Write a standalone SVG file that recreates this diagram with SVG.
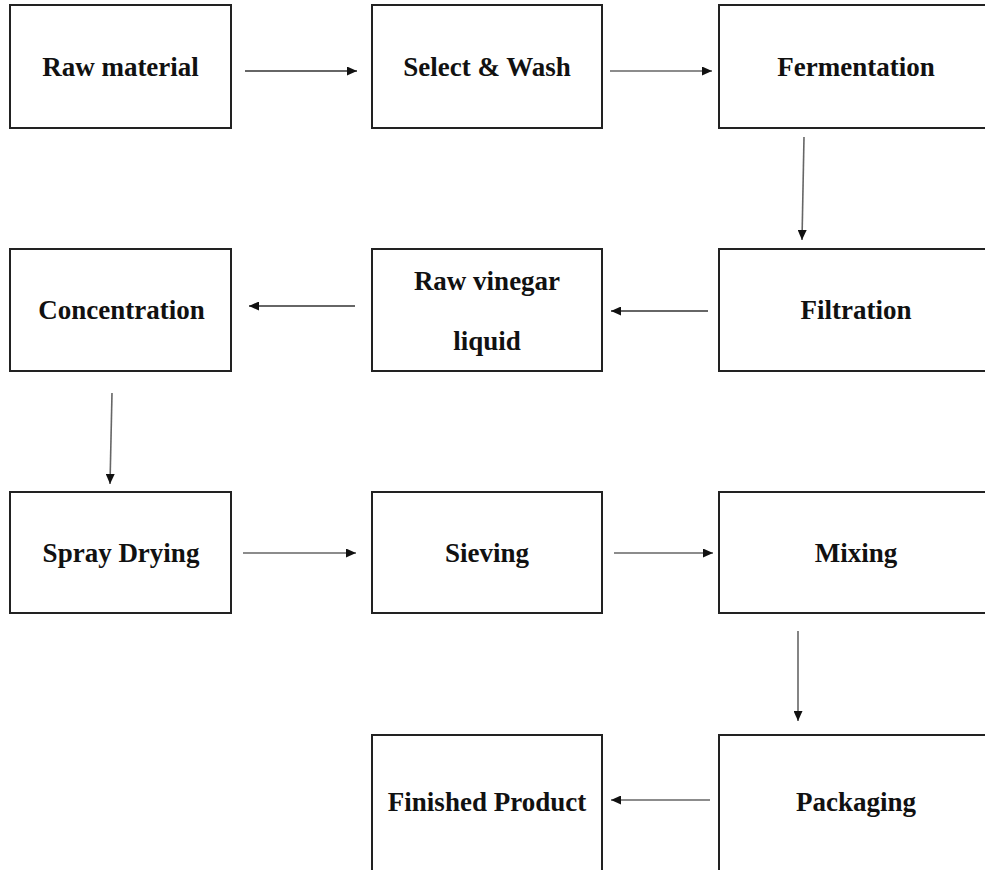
<svg xmlns="http://www.w3.org/2000/svg" width="985" height="870" viewBox="0 0 985 870">
<style>
.box{fill:#fff;stroke:#222;stroke-width:2}
.lbl{font-family:"Liberation Serif","Times New Roman",serif;font-weight:bold;font-size:27px;fill:#111;text-anchor:middle}
.c{stroke:#333;stroke-width:1.6;fill:none;marker-end:url(#ah)}
.g{stroke:#666}
</style>
<defs>
<marker id="ah" viewBox="0 0 10 10" refX="10" refY="5" markerWidth="10" markerHeight="9" markerUnits="userSpaceOnUse" orient="auto" preserveAspectRatio="none">
<path d="M0,0 L10,5 L0,10 z" fill="#111"/>
</marker>
</defs>
<rect width="985" height="870" fill="#fff"/>
<g id="n-raw-material"><rect class="box" x="10" y="5" width="221" height="123"/><text class="lbl" x="120.5" y="76">Raw material</text></g>
<g id="n-select-wash"><rect class="box" x="372" y="5" width="230" height="123"/><text class="lbl" x="487" y="76">Select &amp; Wash</text></g>
<g id="n-fermentation"><rect class="box" x="719" y="5" width="280" height="123"/><text class="lbl" x="856" y="76">Fermentation</text></g>
<g id="n-concentration"><rect class="box" x="10" y="249" width="221" height="122"/><text class="lbl" x="121.5" y="319">Concentration</text></g>
<g id="n-raw-vinegar"><rect class="box" x="372" y="249" width="230" height="122"/><text class="lbl" x="487" y="290">Raw vinegar</text><text class="lbl" x="487" y="350">liquid</text></g>
<g id="n-filtration"><rect class="box" x="719" y="249" width="280" height="122"/><text class="lbl" x="856" y="319">Filtration</text></g>
<g id="n-spray-drying"><rect class="box" x="10" y="492" width="221" height="121"/><text class="lbl" x="121" y="562">Spray Drying</text></g>
<g id="n-sieving"><rect class="box" x="372" y="492" width="230" height="121"/><text class="lbl" x="487" y="562">Sieving</text></g>
<g id="n-mixing"><rect class="box" x="719" y="492" width="280" height="121"/><text class="lbl" x="856" y="562">Mixing</text></g>
<g id="n-finished-product"><rect class="box" x="372" y="735" width="230" height="150"/><text class="lbl" x="487" y="811">Finished Product</text></g>
<g id="n-packaging"><rect class="box" x="719" y="735" width="280" height="150"/><text class="lbl" x="856" y="811">Packaging</text></g>
<g id="connectors">
<line class="c" x1="245" y1="71" x2="357" y2="71"/>
<line class="c g" x1="610" y1="71" x2="712" y2="71"/>
<line class="c g" x1="804" y1="137" x2="802" y2="240"/>
<line class="c" x1="708" y1="311" x2="611" y2="311"/>
<line class="c" x1="355" y1="306" x2="249" y2="306"/>
<line class="c g" x1="112" y1="393" x2="110" y2="484"/>
<line class="c g" x1="243" y1="553" x2="356" y2="553"/>
<line class="c g" x1="614" y1="553" x2="713" y2="553"/>
<line class="c g" x1="798" y1="631" x2="798" y2="721"/>
<line class="c g" x1="710" y1="800" x2="611" y2="800"/>
</g>
</svg>
